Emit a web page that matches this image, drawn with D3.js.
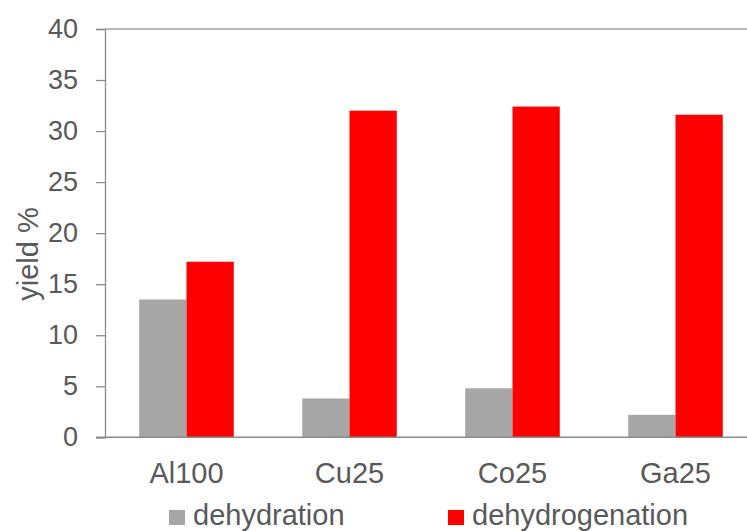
<!DOCTYPE html>
<html>
<head>
<meta charset="utf-8">
<script src="https://cdn.jsdelivr.net/npm/d3@7"></script>
<style>
  body { margin: 0; background: #fff; }
  text { font-family: "Liberation Sans", Arial, sans-serif; fill: #595959; }
</style>
</head>
<body>
<div id="chart"></div>
<script>
// data
var catalysts = ["Al100", "Cu25", "Co25", "Ga25"];
var dehydration = [13.5, 3.8, 4.8, 2.2];
var dehydrogenation = [17.2, 32.0, 32.4, 31.6];
var seriesNames = ["dehydration", "dehydrogenation"];
var seriesColors = ["#a6a6a6", "#ff0000"];
var yTicks = [0, 5, 10, 15, 20, 25, 30, 35, 40];

var W = 747, H = 531;
var svg = d3.select("#chart").append("svg").attr("width", W).attr("height", H);

var plotL = 105, plotR = 757, plotT = 29, plotB = 437.3;

var y = d3.scaleLinear().domain([0, 40]).range([plotB, plotT]);
var x = d3.scaleBand().domain(catalysts).range([plotL, plotR]).paddingInner(0.42).paddingOuter(0.21);
var xs = d3.scaleBand().domain(seriesNames).range([0, x.bandwidth()]);

// y axis
var yAxis = svg.append("g").attr("transform", "translate(" + plotL + ",0)")
  .call(d3.axisLeft(y).tickValues(yTicks).tickSize(9).tickPadding(18));
yAxis.select(".domain").attr("stroke", "#8c8c8c").attr("stroke-width", 1.3);
yAxis.selectAll(".tick line").attr("stroke", "#8c8c8c").attr("stroke-width", 1.3);
yAxis.selectAll(".tick text").style("font-size", "27px").attr("fill", "#595959")
  .style("font-family", "'Liberation Sans', Arial, sans-serif");

// top border line at 40
svg.append("line")
  .attr("x1", plotL).attr("x2", W).attr("y1", y(40)).attr("y2", y(40))
  .style("stroke", "#a0a0a0").style("stroke-width", 1.5);

// bars
var rows = catalysts.map(function(c, i) { return {cat: c, vals: [dehydration[i], dehydrogenation[i]]}; });
var groups = svg.selectAll("g.grp").data(rows).enter().append("g").attr("class", "grp")
  .attr("transform", function(d) { return "translate(" + x(d.cat) + ",0)"; });
groups.selectAll("rect").data(function(d) { return d.vals; }).enter().append("rect")
  .attr("x", function(d, i) { return xs(seriesNames[i]); })
  .attr("width", xs.bandwidth())
  .attr("y", function(d) { return y(d); })
  .attr("height", function(d) { return y(0) - y(d); })
  .style("fill", function(d, i) { return seriesColors[i]; });

// x axis
var xAxis = svg.append("g").attr("transform", "translate(0," + plotB + ")")
  .call(d3.axisBottom(x).tickSize(0).tickPadding(25));
xAxis.select(".domain").remove();
xAxis.selectAll(".tick text").style("font-size", "29px").attr("fill", "#595959")
  .style("font-family", "'Liberation Sans', Arial, sans-serif");
svg.append("line")
  .attr("x1", plotL - 9).attr("x2", W).attr("y1", plotB).attr("y2", plotB)
  .style("stroke", "#8c8c8c").style("stroke-width", 1.5);

// y title
svg.append("text")
  .attr("transform", "translate(38,254) rotate(-90)")
  .attr("text-anchor", "middle").style("font-size", "29px").text("yield %");

// legend
var legX = [169, 448];
var leg = svg.selectAll("g.leg").data(seriesNames).enter().append("g").attr("class", "leg")
  .attr("transform", function(d, i) { return "translate(" + legX[i] + ",510)"; });
leg.append("rect").attr("width", 16).attr("height", 15)
  .style("fill", function(d, i) { return seriesColors[i]; });
leg.append("text").attr("x", 24).attr("y", 15).style("font-size", "29px").text(String);
</script>
</body>
</html>
